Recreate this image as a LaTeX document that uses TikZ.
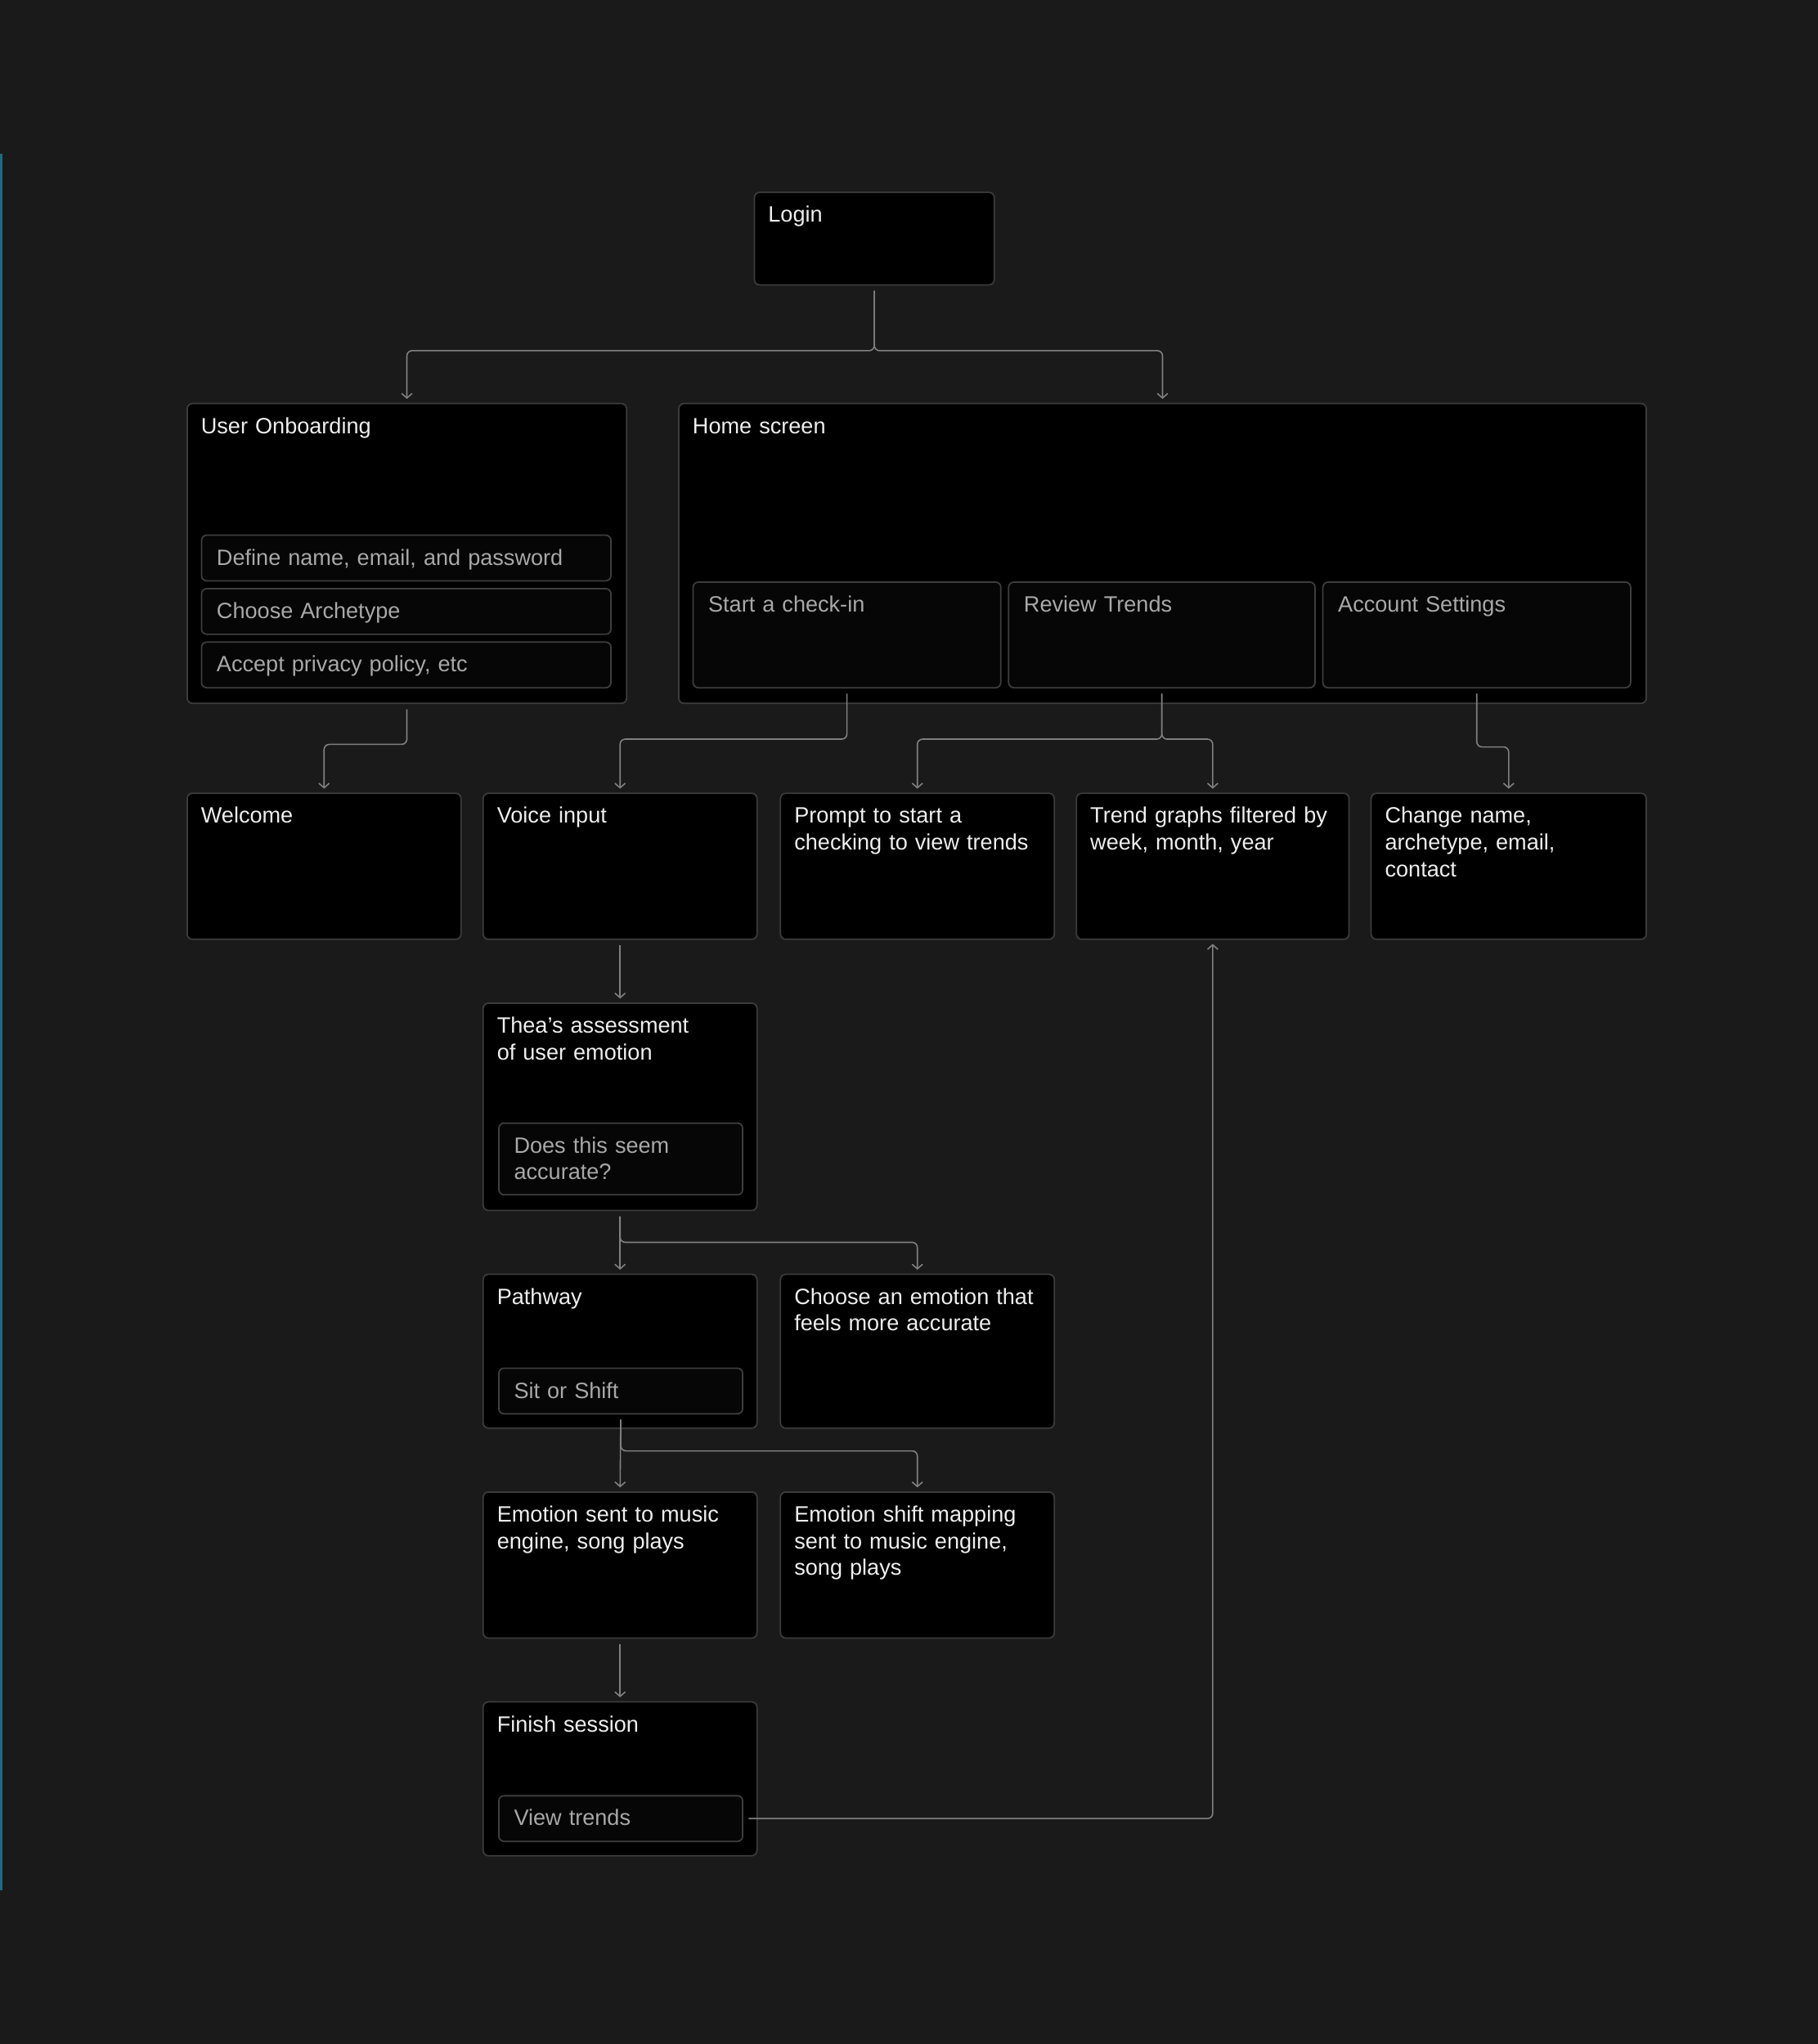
\documentclass[tikz,border=0pt]{standalone}
\usepackage{fontspec}
\setmainfont{Liberation Sans}
\usetikzlibrary{arrows.meta,calc}
\definecolor{bg}{HTML}{1A1A1A}
\definecolor{boxline}{HTML}{3C3C3C}
\definecolor{subline}{HTML}{3E3E3E}
\definecolor{subfill}{HTML}{060606}
\definecolor{titletext}{HTML}{EEEEEE}
\definecolor{subtext}{HTML}{A8A8A8}
\definecolor{connc}{HTML}{808080}
\definecolor{stripe}{HTML}{1F6A80}
\tikzset{
  card/.style={rectangle, draw=boxline, line width=1.1pt, fill=black, rounded corners=4pt,
    inner sep=0pt, anchor=north west},
  subcard/.style={rectangle, draw=subline, line width=1.1pt, fill=subfill, rounded corners=4pt,
    inner sep=0pt, anchor=north west},
  ttl/.style={anchor=base west, inner sep=0pt, text=titletext, text width=200pt, align=left,
    font=\fontsize{17}{20.5}\selectfont},
  subttl/.style={ttl, text=subtext},
  conn/.style={draw=connc, line width=1pt, rounded corners=4pt,
    -{Straight Barb[length=3.5pt,width=8pt]}, shorten <=4pt, shorten >=3pt},
}
\begin{document}
\begin{tikzpicture}[x=1pt,y=-1pt]
\fill[bg] (0,0) rectangle (1394,1568);
\useasboundingbox (0,0) rectangle (1394,1568);
\fill[stripe] (0,118) rectangle (1.6,1450);

% boxes
\node[card, minimum width=184pt, minimum height=71pt] (login) at (578,147) {};
\node[card, minimum width=337pt, minimum height=230pt] (onb) at (143,309) {};
\node[card, minimum width=742pt, minimum height=230pt] (home) at (520,309) {};
\node[subcard, minimum width=314pt, minimum height=35pt] (def) at (154,410) {};
\node[subcard, minimum width=314pt, minimum height=35pt] (arch) at (154,451) {};
\node[subcard, minimum width=314pt, minimum height=35pt] (priv) at (154,492) {};
\node[subcard, minimum width=236pt, minimum height=81pt] (chk) at (531,446) {};
\node[subcard, minimum width=235pt, minimum height=81pt] (rev) at (773,446) {};
\node[subcard, minimum width=236pt, minimum height=81pt] (acct) at (1014,446) {};
\node[card, minimum width=210pt, minimum height=112pt] (welcome) at (143,608) {};
\node[card, minimum width=210pt, minimum height=112pt] (voice) at (370,608) {};
\node[card, minimum width=210pt, minimum height=112pt] (prompt) at (598,608) {};
\node[card, minimum width=209pt, minimum height=112pt] (trend) at (825,608) {};
\node[card, minimum width=211pt, minimum height=112pt] (change) at (1051,608) {};
\node[card, minimum width=210pt, minimum height=159pt] (thea) at (370,769) {};
\node[subcard, minimum width=187pt, minimum height=55pt] (accur) at (382,861) {};
\node[card, minimum width=210pt, minimum height=118pt] (pathway) at (370,977) {};
\node[subcard, minimum width=187pt, minimum height=35pt] (sit) at (382,1049) {};
\node[card, minimum width=210pt, minimum height=118pt] (choose) at (598,977) {};
\node[card, minimum width=210pt, minimum height=112pt] (sent) at (370,1144) {};
\node[card, minimum width=210pt, minimum height=112pt] (shiftmap) at (598,1144) {};
\node[card, minimum width=210pt, minimum height=118pt] (finish) at (370,1305) {};
\node[subcard, minimum width=187pt, minimum height=35pt] (view) at (382,1377) {};

% labels
\node[ttl] (loginL) at ($(login.north west)+(11,23.5)$) {Login};
\node[ttl] (onbL) at ($(onb.north west)+(11,23.5)$) {User Onboarding};
\node[ttl] (homeL) at ($(home.north west)+(11,23.5)$) {Home screen};
\node[subttl, text width=300pt] (defL) at ($(def.north west)+(12,23.5)$) {Define name, email, and password};
\node[subttl] (archL) at ($(arch.north west)+(12,23.5)$) {Choose Archetype};
\node[subttl] (privL) at ($(priv.north west)+(12,23.5)$) {Accept privacy policy, etc};
\node[subttl] (chkL) at ($(chk.north west)+(12,23.5)$) {Start a check-in};
\node[subttl] (revL) at ($(rev.north west)+(12,23.5)$) {Review Trends};
\node[subttl] (acctL) at ($(acct.north west)+(12,23.5)$) {Account Settings};
\node[ttl] (welcomeL) at ($(welcome.north west)+(11,23.5)$) {Welcome};
\node[ttl] (voiceL) at ($(voice.north west)+(11,23.5)$) {Voice input};
\node[ttl] (promptL) at ($(prompt.north west)+(11,23.5)$) {Prompt to start a\\checking to view trends};
\node[ttl] (trendL) at ($(trend.north west)+(11,23.5)$) {Trend graphs filtered by\\week, month, year};
\node[ttl] (changeL) at ($(change.north west)+(11,23.5)$) {Change name,\\archetype, email,\\contact};
\node[ttl] (theaL) at ($(thea.north west)+(11,23.5)$) {Thea’s assessment\\of user emotion};
\node[subttl] (accurL) at ($(accur.north west)+(12,23.5)$) {Does this seem\\accurate?};
\node[ttl] (pathwayL) at ($(pathway.north west)+(11,23.5)$) {Pathway};
\node[subttl] (sitL) at ($(sit.north west)+(12,23.5)$) {Sit or Shift};
\node[ttl] (chooseL) at ($(choose.north west)+(11,23.5)$) {Choose an emotion that\\feels more accurate};
\node[ttl] (sentL) at ($(sent.north west)+(11,23.5)$) {Emotion sent to music\\engine, song plays};
\node[ttl] (shiftmapL) at ($(shiftmap.north west)+(11,23.5)$) {Emotion shift mapping\\sent to music engine,\\song plays};
\node[ttl] (finishL) at ($(finish.north west)+(11,23.5)$) {Finish session};
\node[subttl] (viewL) at ($(view.north west)+(12,23.5)$) {View trends};

% junction levels
\coordinate (lvA) at (0,269);
\coordinate (lvB) at (0,571);
\coordinate (lvC) at (0,567);
\coordinate (lvD) at (0,573);
\coordinate (lvE) at (0,953);
\coordinate (lvF) at (0,1113);

% connectors
\draw[conn] (login.south) -- (login.south |- lvA) -| (onb.north);
\draw[conn] (login.south) -- (login.south |- lvA) -| (home.north);
\draw[conn] (onb.south) -- (onb.south |- lvB) -| (welcome.north);
\draw[conn] (chk.south) -- (chk.south |- lvC) -| (voice.north);
\draw[conn] (rev.south) -- (rev.south |- lvC) -| (prompt.north);
\draw[conn] (rev.south) -- (rev.south |- lvC) -| (trend.north);
\draw[conn] (acct.south) -- (acct.south |- lvD) -| (change.north);
\draw[conn] (voice.south) -- (thea.north);
\draw[conn] (thea.south) -- (pathway.north);
\draw[conn] (thea.south) -- (thea.south |- lvE) -| (choose.north);
\draw[conn] (sit.south) -- (sent.north);
\draw[conn] (sit.south) -- (sit.south |- lvF) -| (shiftmap.north);
\draw[conn] (sent.south) -- (finish.north);
\draw[conn] (view.east) -| (trend.south);
\end{tikzpicture}
\end{document}
